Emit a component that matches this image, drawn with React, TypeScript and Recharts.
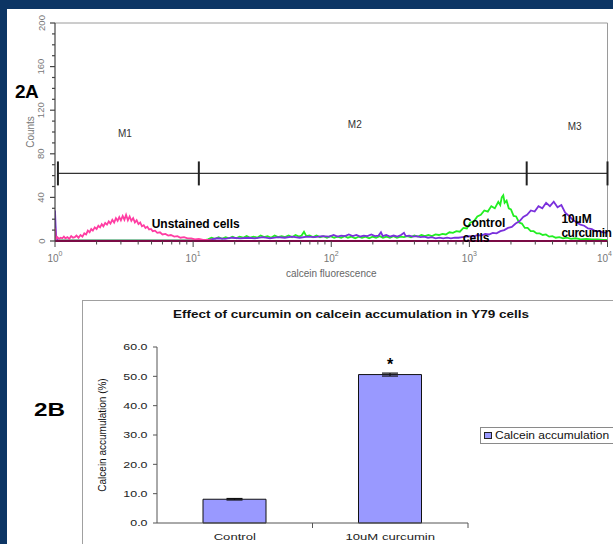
import React from 'react';
import {
  LineChart,
  Line,
  XAxis,
  YAxis,
  ReferenceLine,
  ReferenceDot,
  BarChart,
  Bar,
  ErrorBar,
  LabelList,
  Legend,
} from 'recharts';

const FONT = '"Liberation Sans", Arial, Helvetica, sans-serif';
const NAVY = '#0c3564';

// ---------------- Panel 2A : flow cytometry histograms ----------------
const fluorTicks = [
  1, 2, 3, 4, 5, 6, 7, 8, 9, 10, 20, 30, 40, 50, 60, 70, 80, 90, 100, 200, 300, 400, 500, 600, 700, 800,
  900, 1000, 2000, 3000, 4000, 5000, 6000, 7000, 8000, 9000, 10000,
];
const countTicks = [0, 10, 20, 30, 40, 50, 60, 70, 80, 90, 100, 110, 120, 130, 140, 150, 160, 170, 180, 190, 200];

// [fluorescence, counts]
const unstainedCells: [number, number][] = [
  [1.0, 12], [1.01, 5], [1.02, 2], [1.04, 3.5], [1.07, 2], [1.1, 3], [1.13, 2.5], [1.16, 4], [1.19, 2.5],
  [1.23, 3.5], [1.27, 2], [1.31, 4.5], [1.35, 3], [1.39, 3.5], [1.43, 5], [1.48, 3], [1.53, 5.5], [1.58, 4],
  [1.63, 7], [1.68, 6], [1.73, 9.5], [1.78, 8], [1.83, 11], [1.88, 9.5], [1.94, 12.5], [2.0, 11], [2.06, 14],
  [2.12, 12.5], [2.18, 15.5], [2.24, 13.5], [2.31, 16.5], [2.38, 15], [2.45, 18], [2.52, 16], [2.6, 19.5],
  [2.68, 17], [2.76, 21], [2.84, 18.5], [2.92, 22], [3.0, 19], [3.09, 23], [3.18, 19.5], [3.27, 24], [3.37, 19],
  [3.47, 22.5], [3.57, 18.5], [3.68, 21], [3.79, 17], [3.9, 19], [4.02, 15.5], [4.14, 17], [4.26, 13.5],
  [4.39, 14.5], [4.52, 12], [4.66, 13], [4.8, 10.5], [4.95, 11], [5.1, 9], [5.3, 9.5], [5.5, 7.5], [5.75, 8],
  [6.0, 6], [6.3, 6.5], [6.6, 5], [6.9, 5.5], [7.3, 4], [7.7, 4.5], [8.1, 3], [8.6, 3.5], [9.1, 2.5], [9.7, 2.5],
  [10.3, 1.5], [11.0, 2], [11.8, 1], [12.6, 1], [14, 0],
];

const controlCells: [number, number][] = [
  [1.0, 0.5], [12.0, 0.5], [12.8, 1.5], [13.6, 3], [14.4, 2], [15.3, 3.5], [16.2, 2], [17.2, 3.5], [18.2, 2.5],
  [19.3, 4], [20.5, 2.5], [21.7, 4], [23.0, 3], [24.4, 4.5], [25.9, 3], [27.4, 4], [29.1, 3], [30.8, 5],
  [32.7, 3.5], [34.6, 4.5], [36.7, 3], [38.9, 5], [41.2, 3.5], [43.7, 4.5], [46.3, 3.5], [49.1, 5], [52.0, 3.5],
  [55.1, 5.5], [58.4, 4], [61.0, 5], [63.5, 8.5], [66.0, 4.5], [69.6, 5], [73.8, 3.5], [78.2, 5], [82.9, 3.5],
  [87.9, 4.5], [93.1, 3], [98.7, 4.5], [105, 3], [111, 4], [118, 3], [125, 4.5], [132, 3], [140, 4], [149, 2.5],
  [158, 4], [167, 3], [177, 4], [188, 2.5], [199, 4], [211, 3], [224, 4.5], [237, 3], [251, 4], [266, 3],
  [282, 4.5], [299, 3], [317, 4], [336, 3.5], [356, 4.5], [378, 3.5], [400, 5], [424, 4], [450, 5.5], [477, 4.5],
  [505, 5.5], [536, 4.5], [568, 6], [602, 5.5], [638, 6.5], [676, 6], [717, 8], [760, 7.5], [805, 9], [853, 8.5],
  [905, 12], [959, 11.5], [1016, 17], [1077, 18], [1142, 22.5], [1210, 24], [1283, 28], [1360, 27], [1441, 32],
  [1528, 30], [1619, 36], [1673, 33], [1716, 40], [1760, 42], [1800, 35], [1860, 37], [1928, 30], [2000, 29],
  [2090, 23], [2180, 22.5], [2290, 17], [2400, 16], [2520, 12], [2640, 12], [2780, 9], [2920, 9], [3070, 7],
  [3230, 7], [3400, 5.5], [3580, 6], [3780, 4], [3990, 4.5], [4220, 3], [4480, 3.5], [4760, 2.5], [5080, 3],
  [5450, 2], [5900, 2.5], [6400, 1.5], [7000, 2], [7700, 1.5], [8500, 1.5], [9300, 1], [10000, 1],
];

const curcuminCells: [number, number][] = [
  [1.0, 28], [1.01, 14], [1.02, 4], [1.04, 0.3], [12.5, 0.3], [13.5, 1.5], [15, 2.5], [17, 2], [19, 3],
  [22, 2.5], [25, 3], [28, 2.5], [32, 3.5], [36, 2.5], [41, 3.5], [46, 3], [52, 4], [59, 3], [67, 4], [76, 3.5],
  [86, 4.5], [97, 4], [104, 5.5], [111, 4], [118, 5], [126, 4.5], [134, 6], [143, 4.5], [152, 5.5], [162, 4],
  [172, 5], [183, 4.5], [195, 6], [207, 4.5], [220, 5], [229, 8], [236, 4.5], [250, 5.5], [266, 4], [283, 5],
  [301, 4], [320, 5.5], [336, 7.5], [346, 4.5], [366, 5], [390, 4], [415, 4.5], [442, 3.5], [471, 4], [502, 3],
  [535, 3.5], [570, 2.5], [607, 3], [647, 2.5], [690, 3], [735, 2.5], [783, 3], [834, 3], [889, 3.5], [947, 4],
  [1009, 4.5], [1075, 4], [1146, 5.5], [1221, 5], [1301, 6.5], [1386, 6], [1477, 7.5], [1574, 7], [1677, 9],
  [1787, 10], [1904, 12], [2029, 13], [2162, 16], [2304, 18], [2455, 22], [2616, 24], [2787, 28], [2970, 27],
  [3165, 32], [3373, 30], [3594, 35], [3830, 32], [4081, 36], [4349, 31], [4634, 33], [4938, 26], [5262, 23],
  [5607, 19.5], [5975, 17], [6367, 15], [6785, 14], [7230, 11.5], [7704, 11], [8210, 9], [8748, 9], [9322, 8],
  [10000, 7.5],
];

const markerBounds = [1.05, 11.0, 2600, 10000];
const markerLevel = 62;
const markerTickSpan = [51, 73];
const markerNames = ['M1', 'M2', 'M3'];
const markerNameX = [3.21, 148, 5790];
const markerNameY = [99, 107, 105];

const seriesNotes = [
  { text: 'Unstained cells', fluor: 5.01, count: 15.6, tight: 0 },
  { text: 'Control', fluor: 896, count: 16.5, tight: 0 },
  { text: 'cells', fluor: 896, count: 2.8, tight: 0 },
  { text: '10µM', fluor: 4640, count: 20, tight: 0 },
  { text: 'curcumin', fluor: 4640, count: 7.3, tight: -0.5 },
];

const toPoints = (arr: [number, number][]) => arr.map(([fluor, count]) => ({ fluor, count }));
const unstainedData = toPoints(unstainedCells);
const controlData = toPoints(controlCells);
const curcuminData = toPoints(curcuminCells);

// ---------------- Panel 2B : bar chart ----------------
const groups = ['Control', '10uM curcumin'];
const calceinPct = [8.1, 50.6];
const calceinErr = [0.25, 0.5];
const significance = ['', '*'];
const pctTicks = [0, 10, 20, 30, 40, 50, 60];

const barData = groups.map((g, i) => ({ group: g, pct: calceinPct[i], err: calceinErr[i], sig: significance[i] }));

const STRETCH = 1.38;

const FluorTick = (props: any) => {
  const { x, y, payload, index, visibleTicksCount } = props;
  const v = payload.value;
  const e = Math.log10(v);
  const major = Math.abs(e - Math.round(e)) < 1e-9;
  const last = index === visibleTicksCount - 1;
  return (
    <g>
      <line x1={x} x2={x} y1={y} y2={y + (major ? 6 : 3.5)} stroke="#444" strokeWidth={1} />
      {major && (
        <text x={last ? x - 3 : x} y={y + 21} textAnchor="middle" fontSize={10} fill="#777" fontFamily={FONT}>
          10
          <tspan dy={-6} fontSize={7}>
            {Math.round(e)}
          </tspan>
        </text>
      )}
    </g>
  );
};

const CountTick = (props: any) => {
  const { x, y, payload } = props;
  const v = payload.value;
  const major = v % 40 === 0;
  return (
    <g>
      <line x1={major ? x - 1 : x + 1} x2={x + 4} y1={y} y2={y} stroke="#444" strokeWidth={1.2} />
      {major && (
        <text
          x={x - 10}
          y={y}
          transform={`rotate(-90 ${x - 10} ${y})`}
          textAnchor="middle"
          dominantBaseline="central"
          fontSize={9.5}
          fill="#777"
          fontFamily={FONT}
        >
          {v}
        </text>
      )}
    </g>
  );
};

const PctTick = (props: any) => {
  const { x, y, payload } = props;
  return (
    <g>
      <line x1={x} x2={x + 4} y1={y} y2={y} stroke="#555" />
      <g transform={`translate(${x - 5.5},${y}) scale(${STRETCH},1)`}>
        <text x={0} y={0} textAnchor="end" dominantBaseline="central" fontSize={9} fill="#222" fontFamily={FONT}>
          {Number(payload.value).toFixed(1)}
        </text>
      </g>
    </g>
  );
};

const CatTick = (props: any) => {
  const { x, y, payload } = props;
  const off = payload.offset ?? 0;
  return (
    <g>
      <line x1={x + off} x2={x + off} y1={y} y2={y + 5} stroke="#555" />
      <g transform={`translate(${x},${y + 14}) scale(${STRETCH},1)`}>
        <text x={0} y={0} textAnchor="middle" dominantBaseline="central" fontSize={9.5} fill="#222" fontFamily={FONT}>
          {payload.value}
        </text>
      </g>
    </g>
  );
};

const CalceinLegend = (props: any) => {
  const item = props.payload && props.payload[0];
  return (
    <div
      style={{
        border: '1px solid #8a8a8a',
        height: 17,
        width: 240,
        background: '#fff',
        display: 'flex',
        alignItems: 'center',
        fontFamily: FONT,
        boxSizing: 'border-box',
      }}
    >
      <span
        style={{
          display: 'inline-block',
          width: 6,
          height: 5,
          background: (item && item.color) || '#9999ff',
          border: '1px solid #222',
          marginLeft: 3,
        }}
      />
      <span
        style={{
          display: 'inline-block',
          fontSize: 10,
          marginLeft: 3,
          transform: 'scaleX(1.2)',
          transformOrigin: 'left center',
          whiteSpace: 'nowrap',
          color: '#111',
        }}
      >
        {item ? item.value : 'Calcein accumulation'}
      </span>
    </div>
  );
};

export default function App() {
  return (
    <div
      style={{
        position: 'absolute',
        left: 0,
        top: 0,
        width: 613,
        height: 544,
        overflow: 'hidden',
        background: '#fff',
        fontFamily: FONT,
      }}
    >
      {/* Panel 2A */}
      <div style={{ position: 'absolute', left: 0, top: 0 }}>
        <LineChart width={613} height={289} margin={{ top: 23, right: 5.5, bottom: 0, left: 0 }}>
          <XAxis
            type="number"
            dataKey="fluor"
            scale="log"
            domain={[1, 10000]}
            allowDataOverflow
            ticks={fluorTicks}
            interval={0}
            tick={<FluorTick />}
            tickLine={false}
            tickSize={0}
            tickMargin={0}
            height={48}
            axisLine={{ stroke: '#7a0c45', strokeWidth: 2 }}
            label={{ value: 'calcein fluorescence', position: 'insideBottom', offset: 12, fill: '#666', fontSize: 10 }}
          />
          <YAxis
            type="number"
            domain={[0, 200]}
            allowDataOverflow
            ticks={countTicks}
            interval={0}
            tick={<CountTick />}
            tickLine={false}
            tickSize={4}
            tickMargin={0}
            width={55}
            axisLine={{ stroke: '#444', strokeWidth: 1.2 }}
            label={{
              value: 'Counts',
              angle: -90,
              position: 'insideLeft',
              offset: 30,
              style: { textAnchor: 'middle' },
              fill: '#777',
              fontSize: 10,
            }}
          />
          <ReferenceLine y={200} stroke="#9a9a9a" ifOverflow="visible" />
          <ReferenceLine x={10000} stroke="#9a9a9a" ifOverflow="visible" />
          <ReferenceLine
            segment={[
              { x: markerBounds[0], y: markerLevel },
              { x: markerBounds[3], y: markerLevel },
            ]}
            stroke="#333"
            strokeWidth={1.4}
            ifOverflow="visible"
          />
          {markerBounds.map((b) => (
            <ReferenceLine
              key={`mb${b}`}
              segment={[
                { x: b, y: markerTickSpan[0] },
                { x: b, y: markerTickSpan[1] },
              ]}
              stroke="#222"
              strokeWidth={2}
              ifOverflow="visible"
            />
          ))}
          {markerNames.map((m, i) => (
            <ReferenceDot
              key={m}
              x={markerNameX[i]}
              y={markerNameY[i]}
              r={0}
              fill="none"
              stroke="none"
              label={{ value: m, position: 'center', fill: '#333', fontSize: 10 }}
            />
          ))}
          <Line
            data={controlData}
            dataKey="count"
            type="linear"
            stroke="#22ee22"
            strokeWidth={1.8}
            dot={false}
            isAnimationActive={false}
          />
          <Line
            data={curcuminData}
            dataKey="count"
            type="linear"
            stroke="#7a30dc"
            strokeWidth={1.8}
            dot={false}
            isAnimationActive={false}
          />
          <Line
            data={unstainedData}
            dataKey="count"
            type="linear"
            stroke="#ff3ea3"
            strokeWidth={1.8}
            dot={false}
            isAnimationActive={false}
          />
          {seriesNotes.map((n) => (
            <ReferenceDot
              key={n.text}
              x={n.fluor}
              y={n.count}
              r={0}
              fill="none"
              stroke="none"
              label={{
                value: n.text,
                position: 'right',
                offset: 0,
                fill: '#000',
                fontSize: 12,
                fontWeight: 'bold',
                letterSpacing: n.tight,
              }}
            />
          ))}
        </LineChart>
      </div>

      <div
        style={{
          position: 'absolute',
          left: 15,
          top: 82,
          fontSize: 19,
          lineHeight: '19px',
          fontWeight: 'bold',
          color: '#000',
          letterSpacing: -0.5,
        }}
      >
        2A
      </div>

      {/* Panel 2B */}
      <div
        style={{
          position: 'absolute',
          left: 82,
          top: 300,
          width: 560,
          height: 260,
          border: '1px solid #a0a0a0',
          background: '#fff',
        }}
      >
        <BarChart width={560} height={260} data={barData} margin={{ top: 46, right: 175, bottom: 0, left: 0 }}>
          <XAxis
            dataKey="group"
            height={38}
            interval={0}
            tick={<CatTick />}
            tickLine={false}
            tickSize={0}
            tickMargin={0}
            axisLine={{ stroke: '#555' }}
          />
          <YAxis
            type="number"
            domain={[0, 60]}
            ticks={pctTicks}
            interval={0}
            width={74}
            tick={<PctTick />}
            tickLine={false}
            tickSize={4}
            tickMargin={0}
            axisLine={{ stroke: '#555' }}
            label={{
              value: 'Calcein accumulation (%)',
              angle: -90,
              position: 'insideLeft',
              offset: 19.5,
              style: { textAnchor: 'middle' },
              fill: '#111',
              fontSize: 10,
            }}
          />
          <Bar
            dataKey="pct"
            name="Calcein accumulation"
            fill="#9999ff"
            stroke="#111"
            strokeWidth={1}
            barSize={63}
            isAnimationActive={false}
          >
            <ErrorBar dataKey="err" width={8} stroke="#111" strokeWidth={1.2} />
            <LabelList dataKey="sig" position="top" offset={5} fill="#000" fontSize={16} fontWeight="bold" />
          </Bar>
          <Legend
            layout="vertical"
            align="center"
            verticalAlign="middle"
            content={<CalceinLegend />}
            wrapperStyle={{ left: 397, top: 126, width: 240, height: 17 }}
          />
        </BarChart>
      </div>

      <div
        style={{
          position: 'absolute',
          left: 151,
          top: 309,
          width: 400,
          textAlign: 'center',
          fontSize: 10,
          lineHeight: '12px',
          fontWeight: 'bold',
          color: '#111',
          transform: `scaleX(${1.35})`,
          transformOrigin: 'center',
          whiteSpace: 'nowrap',
        }}
      >
        Effect of curcumin on calcein accumulation in Y79 cells
      </div>

      <div
        style={{
          position: 'absolute',
          left: 34,
          top: 401,
          fontSize: 18,
          lineHeight: '18px',
          fontWeight: 'bold',
          color: '#000',
          transform: 'scaleX(1.35)',
          transformOrigin: 'left center',
        }}
      >
        2B
      </div>

      {/* navy frame */}
      <div style={{ position: 'absolute', left: 0, top: 0, width: 613, height: 9, background: NAVY }} />
      <div style={{ position: 'absolute', left: 0, top: 0, width: 7, height: 544, background: NAVY }} />
    </div>
  );
}
